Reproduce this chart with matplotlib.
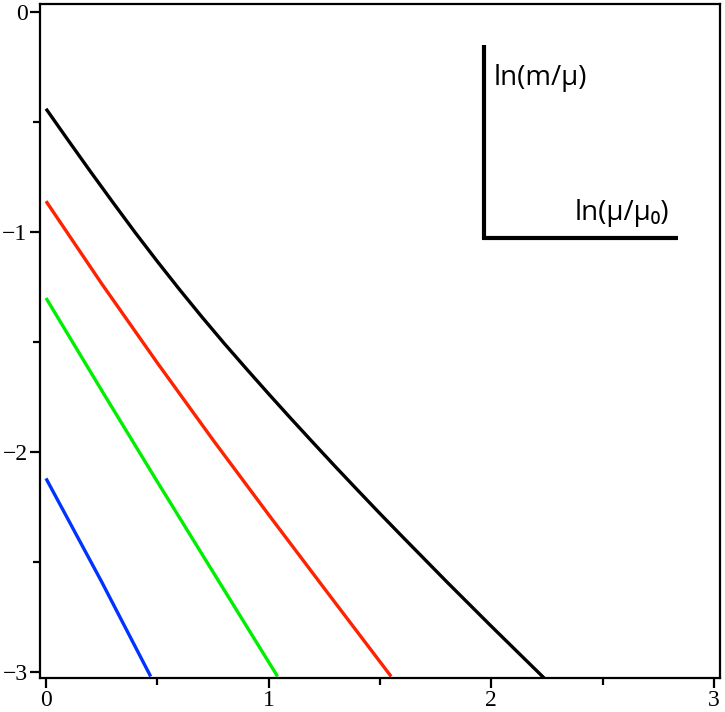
import matplotlib
matplotlib.use("Agg")
import matplotlib.pyplot as plt
from matplotlib.ticker import MultipleLocator, FixedLocator

plt.rcParams["font.family"] = "serif"
plt.rcParams["font.serif"] = ["Liberation Serif", "DejaVu Serif"]

# ---- data ----
black_x = [0.0, 0.1, 0.2, 0.3, 0.4, 0.5, 0.6, 0.7, 0.8, 0.9, 1.0, 1.1, 1.2,
           1.3, 1.4, 1.5, 1.6, 1.8, 2.0, 2.24]
black_y = [-0.44, -0.584, -0.726, -0.865, -1.002, -1.134, -1.262, -1.386,
           -1.506, -1.622, -1.736, -1.848, -1.958, -2.067, -2.174, -2.28,
           -2.384, -2.59, -2.792, -3.03]

red_x = [0.0, 0.25, 0.5, 0.75, 1.0, 1.25, 1.55]
red_y = [-0.86, -1.235, -1.595, -1.945, -2.285, -2.62, -3.02]

green_x = [0.0, 0.25, 0.5, 0.75, 1.04]
green_y = [-1.30, -1.72, -2.135, -2.545, -3.02]

blue_x = [0.0, 0.25, 0.47]
blue_y = [-2.12, -2.59, -3.02]

x_ticks = [0, 1, 2, 3]
y_ticks = [-3, -2, -1, 0]
x_ticklabels = ["0", "1", "2", "3"]
y_ticklabels = ["\u22123", "\u22122", "\u22121", "0"]

ylabel_text = "ln(m/\u03bc)"
xlabel_text = "ln(\u03bc/\u03bc\u2080)"

# ---- figure ----
fig = plt.figure(figsize=(7.25, 7.12), dpi=100)
ax = fig.add_axes([40 / 725, 34 / 712, 680 / 725, 674 / 712])

lw = 2.4
for xs, ys, c in [(black_x, black_y, "black"), (red_x, red_y, "#ff2200"),
                  (green_x, green_y, "#00ee00"), (blue_x, blue_y, "#0033ff")]:
    ax.plot(xs, ys, color=c, lw=lw, solid_capstyle="butt",
            solid_joinstyle="round")

ax.set_xlim(-0.027, 3.027)
ax.set_ylim(-3.027, 0.036)

for s in ax.spines.values():
    s.set_linewidth(1.6)

ax.xaxis.set_major_locator(FixedLocator(x_ticks))
ax.yaxis.set_major_locator(FixedLocator(y_ticks))
ax.xaxis.set_minor_locator(MultipleLocator(0.5))
ax.yaxis.set_minor_locator(MultipleLocator(0.5))
ax.set_xticklabels(x_ticklabels)
ax.set_yticklabels(y_ticklabels)
ax.tick_params(which="major", direction="out", length=7, width=1.6, pad=2,
               labelsize=17)
ax.tick_params(which="minor", direction="out", length=5, width=1.6)
for lab in ax.get_xticklabels() + ax.get_yticklabels():
    lab.set_fontfamily(["Liberation Serif", "DejaVu Serif"])

# axis-key inset (L-shape with labels)
ax.plot([1.967, 1.967], [-0.15, -1.03], color="black", lw=3, solid_capstyle="butt")
ax.plot([1.96, 2.838], [-1.027, -1.027], color="black", lw=3, solid_capstyle="butt")
ax.text(2.01, -0.30, ylabel_text, fontsize=20, family="Open Sans",
        ha="left", va="center")
ax.text(2.80, -0.915, xlabel_text, fontsize=20, family="Open Sans",
        ha="right", va="center")

fig.savefig("out.png", dpi=100)
